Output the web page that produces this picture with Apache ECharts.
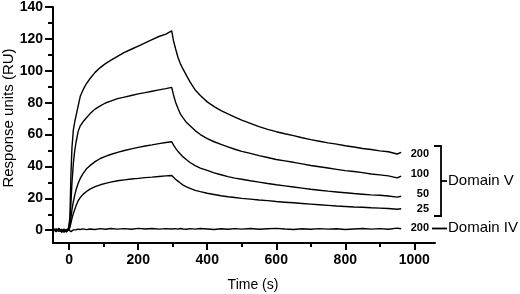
<!DOCTYPE html>
<html>
<head>
<meta charset="utf-8">
<script src="https://cdn.jsdelivr.net/npm/echarts@6/dist/echarts.min.js"></script>
<style>
  html, body { margin: 0; padding: 0; background: #fff; }
  #chart { width: 520px; height: 294px; }
</style>
</head>
<body>
<div id="chart"></div>
<script>
// time points (s)
var times = [
  -45, -38, -30, -22, -15, -8, -3, 0,
  2, 5, 8, 12, 16, 20, 26, 32,
  40, 50, 60, 75, 90, 105, 120, 140,
  160, 180, 200, 220, 240, 260, 280, 297,
  302, 308, 315, 322, 330, 340, 350, 365,
  380, 400, 420, 440, 460, 480, 500, 525,
  550, 575, 600, 625, 650, 675, 700, 725,
  750, 775, 800, 825, 850, 875, 900, 925,
  950, 962
];

// Domain V, 200
var v200 = [
  0.8, -0.6, 1.2, -0.9, 0.5, -1.0, 0.3, 0.5,
  8, 35, 52, 63, 68, 72, 78, 84,
  88, 92, 95, 99, 102, 104.5, 106.5, 109,
  111.5, 113.5, 115.5, 117.5, 119.5, 121.5, 123, 125,
  119, 114, 108.5, 104.5, 101, 97, 93, 88,
  84.5, 80.5, 77.5, 75, 73, 71, 69, 67,
  65, 63.3, 61.8, 60.5, 59.3, 58, 56.8, 55.8,
  54.8, 54, 53, 52.2, 51.3, 50.6, 49.8, 49.2,
  47.8, 48.8
];

// Domain V, 100
var v100 = [
  0.6, -0.9, 1.0, -0.5, 0.8, -1.2, 0.4, 0.6,
  4, 17, 30, 42, 50, 55.5, 62, 65.5,
  68, 70.5, 73, 76, 78, 79.8, 81, 82.5,
  83.5, 84.5, 85.5, 86.3, 87.2, 88, 88.8, 89.6,
  85, 80.5, 76.5, 73, 70.5, 67.5, 65.5, 62.5,
  60, 57.5, 55.5, 53.8, 52.3, 50.8, 49.5, 48.2,
  46.8, 45.6, 44.4, 43.5, 42.6, 41.6, 40.6, 39.8,
  39, 38.2, 37.4, 36.8, 36.1, 35.3, 34.7, 34.1,
  32.8, 34
];

// Domain V, 50
var v50 = [
  1.0, -0.4, 0.7, -1.1, 0.2, -0.6, 0.9, 0.4,
  2.5, 8, 13, 18, 22, 25.5, 29.5, 32.5,
  35.5, 38.5, 40.5, 43, 45, 46.3, 47.5, 48.8,
  50, 51, 52, 52.8, 53.5, 54.3, 55, 55.5,
  53.5, 51.5, 49.5, 47.8, 46, 44.2, 42.5, 40.5,
  39, 37.5, 36, 34.8, 33.6, 32.7, 32, 31,
  30.2, 29.3, 28.5, 27.8, 27.1, 26.4, 25.7, 25.1,
  24.5, 24, 23.5, 23, 22.6, 22.2, 21.9, 21.5,
  20.8, 21.3
];

// Domain V, 25
var v25 = [
  -0.3, 0.9, -0.8, 0.6, -1.3, 0.5, -0.2, 0.3,
  1.5, 4.5, 7.5, 10.5, 13, 15.5, 18.5, 20.5,
  22.5, 24.3, 25.8, 27.4, 28.5, 29.4, 30.2, 31,
  31.6, 32.1, 32.5, 33, 33.3, 33.7, 34.1, 34.3,
  33.2, 32, 30.8, 29.6, 28.3, 27.2, 26.2, 25,
  24.2, 23.2, 22.4, 21.6, 21, 20.5, 20, 19.5,
  19, 18.6, 18, 17.6, 17.2, 16.8, 16.4, 16,
  15.6, 15.2, 14.9, 14.6, 14.4, 14.1, 13.9, 13.6,
  13.2, 13.5
];

// Domain IV, 200
var vIV = [
  0.6, -0.8, 1.0, -1.2, 0.4, -0.7, 0.6, 0.8,
  0.3, -0.9, -0.5, 0.2, 0.6, 0.3, 0.7, 0.5,
  0.9, 0.4, 0.8, 0.5, 1.0, 0.6, 1.1, 0.7,
  1.0, 0.6, 1.2, 0.8, 1.1, 0.7, 1.0, 0.8,
  0.6, 1.0, 0.7, 1.1, 0.8, 0.6, 1.0, 0.7,
  1.1, 0.8, 0.5, 0.9, 0.6, 1.0, 0.7, 1.1,
  0.6, 0.9, 1.2, 0.8, 0.5, 0.9, 0.6, 1.0,
  0.7, 0.9, 0.5, 0.8, 1.1, 0.7, 1.0, 0.6,
  1.3, 0.9
];

var curveNames = ['200', '100', '50', '25', '200 IV'];
var curveValues = [v200, v100, v50, v25, vIV];

// tick labels
var yTicks = [0, 20, 40, 60, 80, 100, 120, 140];
var yMinorTicks = [10, 30, 50, 70, 90, 110, 130];
var xTicks = [0, 200, 400, 600, 800, 1000];
var xMinorTicks = [100, 300, 500, 700, 900];

var FONT = '"Liberation Sans", Arial, Helvetica, sans-serif';

var chart = echarts.init(document.getElementById('chart'));

function zip(vals) {
  var out = [];
  for (var i = 0; i < times.length; i++) {
    out.push([times[i], vals[i]]);
  }
  return out;
}

var series = [];
for (var k = 0; k < curveValues.length; k++) {
  series.push({
    name: curveNames[k],
    type: 'line',
    xAxisIndex: 0,
    yAxisIndex: 0,
    showSymbol: false,
    symbol: 'none',
    lineStyle: { color: '#000', width: 1.4 },
    data: zip(curveValues[k])
  });
}

var axisBlack = { color: '#000', width: 2 };
var plainNum = function (v) { return String(v); };

var option = {
  animation: false,
  backgroundColor: '#fff',
  grid: { left: 53, right: 85, top: 7, bottom: 51, containLabel: false },
  xAxis: [
    {
      type: 'value',
      min: -47,
      max: 1060,
      axisLine: { show: true, onZero: false, lineStyle: axisBlack },
      axisTick: { show: true, customValues: xTicks, length: 7, lineStyle: axisBlack },
      axisLabel: {
        customValues: xTicks, margin: 10, color: '#000', formatter: plainNum,
        fontFamily: FONT, fontWeight: 'bold', fontSize: 14
      },
      splitLine: { show: false }
    },
    {
      type: 'value',
      min: -47,
      max: 1060,
      position: 'bottom',
      axisLine: { show: false, onZero: false },
      axisTick: { show: true, customValues: xMinorTicks, length: 4, lineStyle: axisBlack },
      axisLabel: { show: false },
      splitLine: { show: false }
    }
  ],
  yAxis: [
    {
      type: 'value',
      min: -8,
      max: 140,
      axisLine: { show: true, onZero: false, lineStyle: axisBlack },
      axisTick: { show: true, customValues: yTicks, length: 8, lineStyle: axisBlack },
      axisLabel: {
        customValues: yTicks, margin: 10, color: '#000', formatter: plainNum,
        fontFamily: FONT, fontWeight: 'bold', fontSize: 14
      },
      splitLine: { show: false }
    },
    {
      type: 'value',
      min: -8,
      max: 140,
      position: 'left',
      axisLine: { show: false, onZero: false },
      axisTick: { show: true, customValues: yMinorTicks, length: 5, lineStyle: axisBlack },
      axisLabel: { show: false },
      splitLine: { show: false }
    }
  ],
  series: series,
  graphic: [
    // axis names
    {
      type: 'text', x: 9, y: 118, rotation: Math.PI / 2,
      style: { text: 'Response units (RU)', font: '15px ' + FONT, fill: '#000',
               textAlign: 'center', textVerticalAlign: 'middle' }
    },
    {
      type: 'text', x: 253, y: 285,
      style: { text: 'Time (s)', font: '14px ' + FONT, fill: '#000',
               textAlign: 'center', textVerticalAlign: 'middle' }
    },
    // curve labels
    { type: 'text', x: 429, y: 154, style: { text: '200', font: 'bold 11px ' + FONT, fill: '#000', textAlign: 'right', textVerticalAlign: 'middle' } },
    { type: 'text', x: 429, y: 174, style: { text: '100', font: 'bold 11px ' + FONT, fill: '#000', textAlign: 'right', textVerticalAlign: 'middle' } },
    { type: 'text', x: 429, y: 194, style: { text: '50', font: 'bold 11px ' + FONT, fill: '#000', textAlign: 'right', textVerticalAlign: 'middle' } },
    { type: 'text', x: 429, y: 209, style: { text: '25', font: 'bold 11px ' + FONT, fill: '#000', textAlign: 'right', textVerticalAlign: 'middle' } },
    { type: 'text', x: 429, y: 227.5, style: { text: '200', font: 'bold 11px ' + FONT, fill: '#000', textAlign: 'right', textVerticalAlign: 'middle' } },
    // bracket for Domain V
    {
      type: 'polyline',
      shape: { points: [[434, 146], [441, 146], [441, 216], [434, 216]] },
      style: { stroke: '#000', lineWidth: 1.8, fill: null }
    },
    {
      type: 'line',
      shape: { x1: 441, y1: 181, x2: 447, y2: 181 },
      style: { stroke: '#000', lineWidth: 1.8 }
    },
    {
      type: 'text', x: 448, y: 180.5,
      style: { text: 'Domain V', font: '15px ' + FONT, fill: '#000', textAlign: 'left', textVerticalAlign: 'middle' }
    },
    // Domain IV
    {
      type: 'line',
      shape: { x1: 432, y1: 228.5, x2: 447, y2: 228.5 },
      style: { stroke: '#000', lineWidth: 1.8 }
    },
    {
      type: 'text', x: 448, y: 228,
      style: { text: 'Domain IV', font: '15px ' + FONT, fill: '#000', textAlign: 'left', textVerticalAlign: 'middle' }
    }
  ]
};

chart.setOption(option);
</script>
</body>
</html>
